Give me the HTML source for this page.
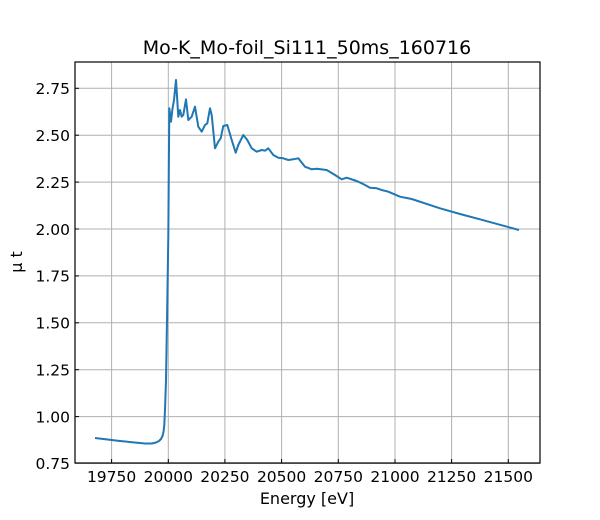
<!DOCTYPE html>
<html><head><style>body{margin:0;background:#fff}svg{display:block}text{font-family:"DejaVu Sans",sans-serif;fill:#000}</style></head><body>
<svg width="600" height="520" viewBox="0 0 600 520" xmlns="http://www.w3.org/2000/svg">
<g stroke="#b0b0b0" stroke-width="1">
<line x1="111.6" y1="62" x2="111.6" y2="463"/><line x1="168.3" y1="62" x2="168.3" y2="463"/><line x1="224.9" y1="62" x2="224.9" y2="463"/><line x1="281.6" y1="62" x2="281.6" y2="463"/><line x1="338.3" y1="62" x2="338.3" y2="463"/><line x1="395" y1="62" x2="395" y2="463"/><line x1="451.6" y1="62" x2="451.6" y2="463"/><line x1="508.3" y1="62" x2="508.3" y2="463"/>
<line x1="75" y1="88.3" x2="540" y2="88.3"/><line x1="75" y1="135.2" x2="540" y2="135.2"/><line x1="75" y1="182.1" x2="540" y2="182.1"/><line x1="75" y1="229" x2="540" y2="229"/><line x1="75" y1="275.9" x2="540" y2="275.9"/><line x1="75" y1="322.8" x2="540" y2="322.8"/><line x1="75" y1="369.7" x2="540" y2="369.7"/><line x1="75" y1="416.6" x2="540" y2="416.6"/><line x1="75" y1="463.5" x2="540" y2="463.5"/>
</g>
<polyline fill="none" stroke="#1f77b4" stroke-width="2" stroke-linejoin="round" points="95,438 120,441 145,443.5 152,443.5 156,442.5 159,441 161,439 162.5,436 163.5,432 164.3,425 165,410 166,380 167,320 168.3,236.7 169.3,108.3 171,121.7 172.3,110 174,100 176,80 178.3,116.7 180,110 181.7,116.7 183.3,115 186,99.3 188.3,120 191.7,116.7 195,106.7 198.3,126.7 201.7,131.7 205,125 207.3,123.3 210,108.3 211.7,115 215,148.3 218.3,141.7 220.7,138.3 223.3,126 227.3,125 231.7,140 235.7,152.7 238.3,145 243.3,135 247.3,140 251.7,148.3 256.7,151.7 261.7,150 265,150.7 268.3,148.3 273.3,155 278.3,157.7 283.3,158.3 288.3,160 293.3,159.3 298.3,158.3 305,166.7 311.7,169.3 316.7,168.7 326.7,170 335,175 341.7,179.3 346.7,177.7 356.7,181 361.7,183.3 370,187.7 376.7,188.3 381.7,190 388.3,191.7 400,196.7 411.7,199 440,208.3 460,214 480,219.3 519,230"/>
<rect x="75" y="62" width="465" height="401" fill="none" stroke="#000" stroke-width="1.2"/>
<g stroke="#000" stroke-width="1">
<line x1="111.6" y1="463" x2="111.6" y2="459"/><line x1="168.3" y1="463" x2="168.3" y2="459"/><line x1="224.9" y1="463" x2="224.9" y2="459"/><line x1="281.6" y1="463" x2="281.6" y2="459"/><line x1="338.3" y1="463" x2="338.3" y2="459"/><line x1="395" y1="463" x2="395" y2="459"/><line x1="451.6" y1="463" x2="451.6" y2="459"/><line x1="508.3" y1="463" x2="508.3" y2="459"/>
<line x1="75" y1="88.3" x2="79" y2="88.3"/><line x1="75" y1="135.2" x2="79" y2="135.2"/><line x1="75" y1="182.1" x2="79" y2="182.1"/><line x1="75" y1="229" x2="79" y2="229"/><line x1="75" y1="275.9" x2="79" y2="275.9"/><line x1="75" y1="322.8" x2="79" y2="322.8"/><line x1="75" y1="369.7" x2="79" y2="369.7"/><line x1="75" y1="416.6" x2="79" y2="416.6"/>
</g>
<g font-size="15.5" text-anchor="middle">
<text x="111.6" y="482">19750</text><text x="168.3" y="482">20000</text><text x="224.9" y="482">20250</text><text x="281.6" y="482">20500</text><text x="338.3" y="482">20750</text><text x="395" y="482">21000</text><text x="451.6" y="482">21250</text><text x="508.3" y="482">21500</text>
</g>
<g font-size="15.5" text-anchor="end">
<text x="70" y="94">2.75</text><text x="70" y="141">2.50</text><text x="70" y="188">2.25</text><text x="70" y="235">2.00</text><text x="70" y="281.5">1.75</text><text x="70" y="328.5">1.50</text><text x="70" y="375.5">1.25</text><text x="70" y="422.5">1.00</text><text x="70" y="469">0.75</text>
</g>
<text x="307" y="504" font-size="16" text-anchor="middle">Energy [eV]</text>
<text transform="translate(22,262) rotate(-90)" font-size="16" text-anchor="middle">μ t</text>
<text x="307" y="54" font-size="19" text-anchor="middle">Mo-K_Mo-foil_Si111_50ms_160716</text>
</svg>
</body></html>
